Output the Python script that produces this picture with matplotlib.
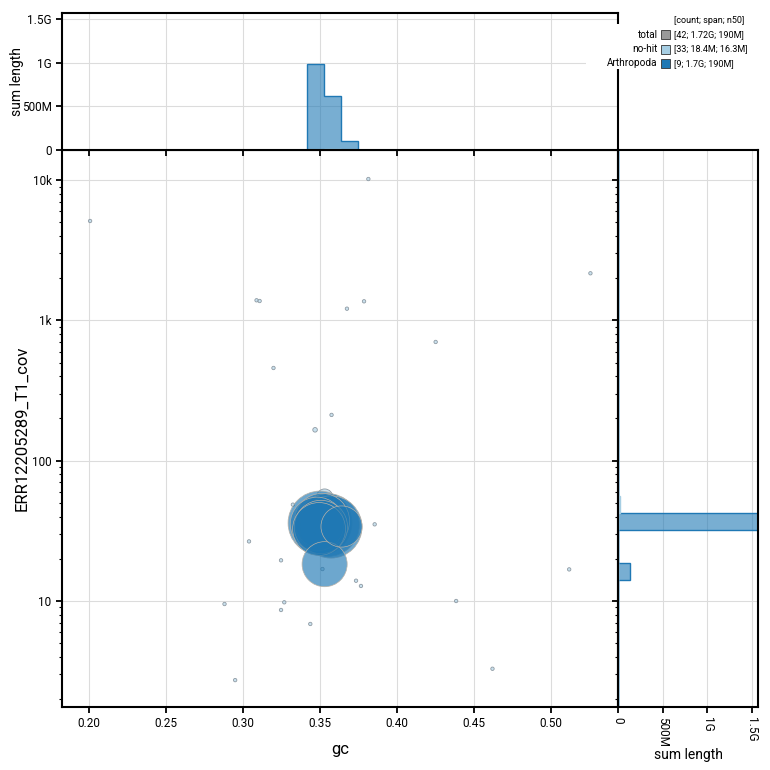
import numpy as np
import matplotlib
matplotlib.use("Agg")
import matplotlib.pyplot as plt
from matplotlib.colors import to_rgba
from matplotlib.patches import Rectangle
from matplotlib.ticker import LogLocator, NullFormatter

plt.rcParams["font.family"] = ["Roboto", "DejaVu Sans"]

# --- data: one entry per contig (gc, coverage, length in bp) ---
arth_gc = [0.3500, 0.3552, 0.3571, 0.3513, 0.3481, 0.3506, 0.3494, 0.3640, 0.3530]
arth_cov = [35.97, 34.8, 33.7, 37.2, 35.4, 33.7, 32.6, 33.96, 18.3]
arth_len = [255e6, 245e6, 242e6, 190e6, 180e6, 178e6, 175e6, 106e6, 127e6]

nohit_gc = [0.3530, 0.2007, 0.3814, 0.5256, 0.3088, 0.3108, 0.3675, 0.3786,
            0.4251, 0.3198, 0.3575, 0.3468, 0.3324, 0.3855, 0.3039, 0.3247,
            0.3516, 0.5118, 0.3734, 0.3766, 0.2880, 0.3268, 0.3247, 0.4384,
            0.3437, 0.4620, 0.2949, 0.3480, 0.3520, 0.3550, 0.3500, 0.3570,
            0.3460]
nohit_cov = [55.1, 5112, 10180, 2167, 1391, 1375, 1212, 1368,
             702, 458, 212, 166, 48.6, 35.2, 26.6, 19.5,
             16.9, 16.8, 13.95, 12.8, 9.52, 9.79, 8.63, 10.0,
             6.86, 3.29, 2.73, 33.0, 36.0, 31.0, 38.0, 35.0,
             30.0]
nohit_len = [16.3e6, 42e3, 35e3, 31e3, 28e3, 27e3, 30e3, 26e3,
             33e3, 29e3, 25e3, 1.3e6, 24e3, 27e3, 22e3, 23e3,
             26e3, 21e3, 24e3, 22e3, 20e3, 21e3, 25e3, 23e3,
             20e3, 19e3, 18e3, 30e3, 28e3, 26e3, 25e3, 24e3,
             22e3]

legend_names = ["total", "no-hit", "Arthropoda"]
legend_stats = ["[42; 1.72G; 190M]", "[33; 18.4M; 16.3M]", "[9; 1.7G; 190M]"]
legend_colors = ["#999999", "#a6cee3", "#1f78b4"]

gc_ticks = [0.20, 0.25, 0.30, 0.35, 0.40, 0.45, 0.50]
cov_ticks = [10, 100, 1000, 10000]
cov_labels = ["10", "100", "1k", "10k"]
len_ticks = [0, 5e8, 1e9, 1.5e9]
len_labels = ["0", "500M", "1G", "1.5G"]

# histogram bins (gc linear, coverage log10)
gc_edges = 0.34136 + 0.011 * np.arange(-15, 20)
cov_edges = 10 ** (1.5085 + 0.1195 * np.arange(-12, 24))

W = H = 770
DPI = 100


def fx(px):
    return px / W


def fy(py):
    return 1 - py / H


def marker_area(lengths):
    r_px = np.maximum(2.0 * np.sqrt(np.asarray(lengths) / 1e6), 1.7)
    return (2 * r_px * 72 / DPI) ** 2


fig = plt.figure(figsize=(W / DPI, H / DPI), dpi=DPI)
fig.patch.set_facecolor("white")

L, R, T, B = 62, 618.3, 150, 707
ax = fig.add_axes([fx(L), fy(B), fx(R) - fx(L), fy(T) - fy(B)])
ax_top = fig.add_axes([fx(L), fy(T), fx(R) - fx(L), fy(13) - fy(T)])
ax_right = fig.add_axes([fx(R), fy(B), fx(757.7) - fx(R), fy(T) - fy(B)])

xlim = (0.18247, 0.5437)
ylim = (1.756, 16390)
hmax = 1.567e9

# --- scatter ---
blue = "#1f78b4"
light = "#a6cee3"
order = np.argsort(nohit_len)[::-1]
ax.scatter(np.array(nohit_gc)[order], np.array(nohit_cov)[order],
           s=marker_area(np.array(nohit_len)[order]),
           facecolor=to_rgba(light, 0.6), edgecolor="#8f9aa3",
           linewidth=0.6, zorder=3)
order = np.argsort(arth_len)[::-1]
ax.scatter(np.array(arth_gc)[order], np.array(arth_cov)[order],
           s=marker_area(np.array(arth_len)[order]),
           facecolor=to_rgba(blue, 0.65), edgecolor="#b9b2a8",
           linewidth=0.5, zorder=4)

ax.set_xlim(*xlim)
ax.set_yscale("log")
ax.set_ylim(*ylim)
ax.set_xticks(gc_ticks, [f"{v:.2f}" for v in gc_ticks])
ax.set_yticks(cov_ticks, cov_labels)
ax.yaxis.set_minor_locator(LogLocator(base=10, subs=range(2, 10)))
ax.yaxis.set_minor_formatter(NullFormatter())
ax.set_xlabel("gc", fontsize=12, labelpad=8.5)
ax.set_ylabel("ERR12205289_T1_cov", fontsize=12, labelpad=2)

# --- top histogram (gc) ---
ax_top.hist(arth_gc, bins=gc_edges, weights=arth_len, histtype="stepfilled",
            facecolor=to_rgba(blue, 0.6), edgecolor=blue, linewidth=1, zorder=2)
ax_top.hist(nohit_gc, bins=gc_edges, weights=nohit_len, histtype="stepfilled",
            facecolor=to_rgba(light, 0.8), edgecolor=light, linewidth=1, zorder=2.1)
ax_top.set_xlim(*xlim)
ax_top.set_ylim(0, hmax)
ax_top.set_xticks(gc_ticks)
ax_top.tick_params(axis="x", labelbottom=False)
ax_top.set_yticks(len_ticks, len_labels)
ax_top.set_ylabel("sum length", fontsize=10, labelpad=-2)

# --- right histogram (coverage) ---
ax_right.hist(arth_cov, bins=cov_edges, weights=arth_len, histtype="stepfilled",
              orientation="horizontal", facecolor=to_rgba(blue, 0.6),
              edgecolor=blue, linewidth=1, zorder=2)
ax_right.hist(nohit_cov, bins=cov_edges, weights=nohit_len, histtype="stepfilled",
              orientation="horizontal", facecolor=to_rgba(light, 0.8),
              edgecolor=light, linewidth=1, zorder=2.1)
ax_right.set_yscale("log")
ax_right.set_ylim(*ylim)
ax_right.set_xlim(0, hmax)
ax_right.set_yticks(cov_ticks)
ax_right.yaxis.set_minor_locator(LogLocator(base=10, subs=range(2, 10)))
ax_right.yaxis.set_minor_formatter(NullFormatter())
ax_right.tick_params(axis="y", labelleft=False)
ax_right.set_xticks(len_ticks, len_labels, rotation=-90)
ax_right.set_xlabel("sum length", fontsize=10, labelpad=0.5)

for a in (ax, ax_top, ax_right):
    a.set_axisbelow(True)
    a.grid(True, which="major", color="#dcdcdc", linewidth=0.8)
    for sp in a.spines.values():
        sp.set_linewidth(1.5)
        sp.set_color("black")
        sp.set_zorder(2.5)
    a.tick_params(which="major", direction="out", length=4, width=1.3,
                  labelsize=8.5, color="black")
    a.tick_params(which="minor", direction="out", length=2.5, width=0.8)

# --- legend (drawn in figure pixels) ---
fig.patches.append(Rectangle((fx(586), fy(69)), fx(770) - fx(586), fy(24) - fy(69),
                             transform=fig.transFigure, facecolor="white",
                             edgecolor="none", zorder=5))
fig.text(fx(674), fy(20.5), "[count; span; n50]", fontsize=6.5, va="center",
         ha="left", zorder=6)
for i, (name, stat, col) in enumerate(zip(legend_names, legend_stats, legend_colors)):
    yc = 34.5 + 14.5 * i
    fig.text(fx(657.5), fy(yc), name, fontsize=7.2, ha="right", va="center", zorder=6)
    fig.patches.append(Rectangle((fx(661), fy(yc + 4.5)), fx(9), fx(9),
                                 transform=fig.transFigure, facecolor=col,
                                 edgecolor="#333333", linewidth=0.6, zorder=6))
    fig.text(fx(674), fy(yc), stat, fontsize=6.5, ha="left", va="center", zorder=6)

fig.savefig("out.png", dpi=DPI)
